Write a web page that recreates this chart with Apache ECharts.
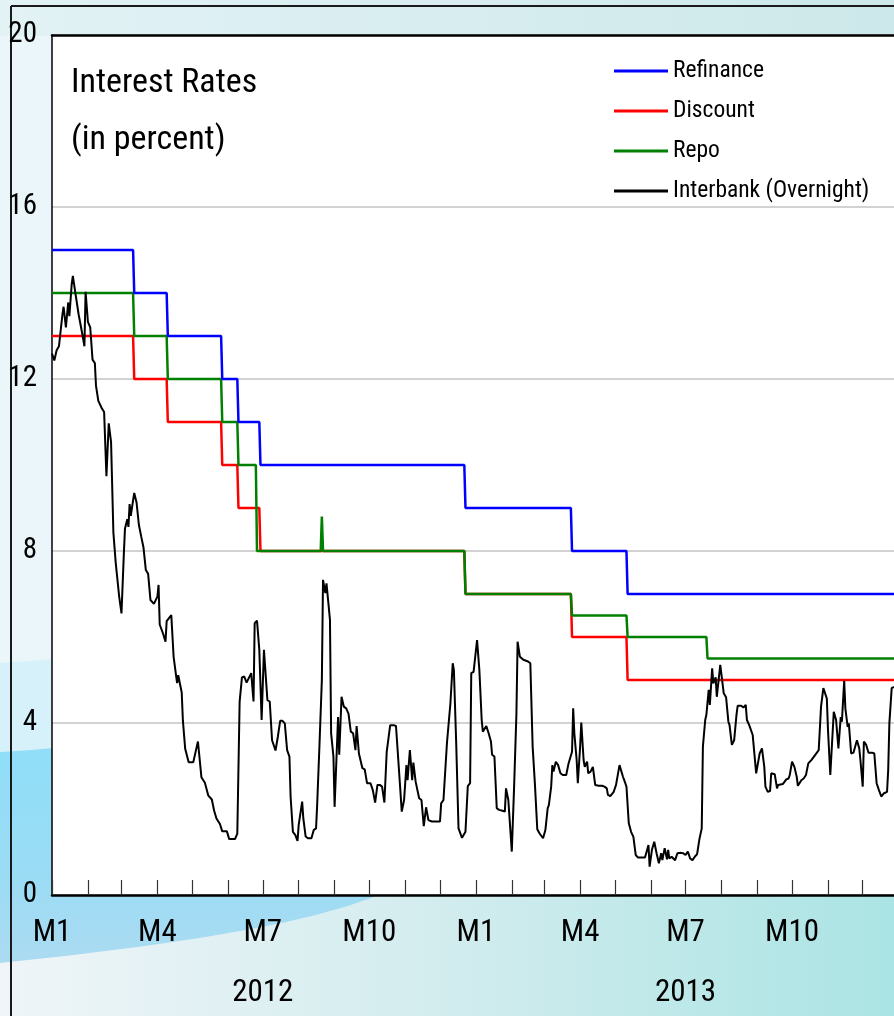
<!DOCTYPE html>
<html>
<head>
<meta charset="utf-8">
<script src="https://cdn.jsdelivr.net/npm/echarts@6/dist/echarts.min.js"></script>
<style>
html,body{margin:0;padding:0;width:894px;height:1016px;overflow:hidden;}
#bg{position:absolute;left:0;top:0;}
#chart{position:absolute;left:0;top:0;width:894px;height:1016px;}
</style>
</head>
<body>
<svg id="bg" width="894" height="1016" xmlns="http://www.w3.org/2000/svg">
  <defs>
    <linearGradient id="bgH" x1="0" y1="0" x2="1" y2="0">
      <stop offset="0" stop-color="#eff5f8"/>
      <stop offset="0.5" stop-color="#d2ecee"/>
      <stop offset="1" stop-color="#abe4e4"/>
    </linearGradient>
    <linearGradient id="bgT" x1="0" y1="0" x2="1" y2="0">
      <stop offset="0" stop-color="#e2f2f5"/>
      <stop offset="1" stop-color="#cde8ea"/>
    </linearGradient>
    <linearGradient id="sw" gradientUnits="userSpaceOnUse" x1="0" y1="750" x2="0" y2="965">
      <stop offset="0" stop-color="#90def8"/>
      <stop offset="0.6" stop-color="#9bdcf5"/>
      <stop offset="1" stop-color="#acdbf1"/>
    </linearGradient>
  </defs>
  <rect x="0" y="0" width="894" height="1016" fill="url(#bgH)"/>
  <rect x="0" y="0" width="894" height="36" fill="url(#bgT)"/>
  <rect x="0" y="36" width="52" height="630" fill="#eaf6f9"/>
  <path d="M0,663 C150,655 400,610 700,520 L700,700 L0,752 Z" fill="#d6f1fa"/>
  <path d="M0,752 C200,740 420,690 700,600 L700,895 L378,895 C330,915 230,940 0,963 Z" fill="url(#sw)"/>
  <line x1="11" y1="6" x2="894" y2="6" stroke="#1a1a1a" stroke-width="2"/>
  <line x1="11" y1="6" x2="11" y2="1016" stroke="#1a1a1a" stroke-width="2"/>
</svg>
<div id="chart"></div>
<script>
// ---------- data ----------
const startDate = '2012-01-01';
const endDate = '2013-12-28';
const quarterMonths = ['01', '04', '07', '10'];
const yearLabelDays = ['2012-07-01', '2013-07-01'];
const legendNames = ['Refinance', 'Discount', 'Repo', 'Interbank (Overnight)'];

// policy rate changes: [date from which the rate applies, rate]
const refinanceChanges = [
  ['2012-01-01', 15], ['2012-03-12', 14], ['2012-04-10', 13], ['2012-05-27', 12],
  ['2012-06-10', 11], ['2012-06-29', 10], ['2012-12-23', 9], ['2013-03-25', 8],
  ['2013-05-12', 7]
];
const discountChanges = [
  ['2012-01-01', 13], ['2012-03-12', 12], ['2012-04-10', 11], ['2012-05-27', 10],
  ['2012-06-10', 9], ['2012-06-29', 8], ['2012-12-23', 7], ['2013-03-25', 6],
  ['2013-05-12', 5]
];
const repoChanges = [
  ['2012-01-01', 14], ['2012-03-12', 13], ['2012-04-10', 12], ['2012-05-27', 11],
  ['2012-06-10', 10], ['2012-06-26', 8], ['2012-08-21', 8.8], ['2012-08-22', 8],
  ['2012-12-23', 7], ['2013-03-25', 6.5], ['2013-05-12', 6], ['2013-07-20', 5.5]
];

// interbank overnight rate: day number counted from 2012-01-01, rate
const interbankDay = [0,2,4,6,9,10,12,14,15,17,18,20,23,26,28,29,31,33,35,37,38,40,43,45,47,49,51,53,55,58,59,60,62,63,65,66,67,68,71,73,75,77,79,81,83,85,88,91,92,93,96,98,99,103,105,108,109,112,113,115,118,122,126,129,132,135,138,140,142,145,147,151,153,158,160,162,164,166,168,169,172,173,174,175,177,179,181,183,186,188,190,193,195,197,199,201,202,203,205,206,208,210,212,213,216,217,219,221,224,226,228,229,231,233,234,236,237,238,240,241,243,244,247,248,250,252,254,256,258,260,262,263,265,266,268,270,272,275,277,279,281,283,285,287,289,290,292,295,297,299,300,302,304,306,307,309,311,312,314,317,319,321,323,325,328,335,336,338,341,344,346,347,349,351,352,354,357,358,359,361,362,364,367,369,371,372,375,377,379,380,382,384,386,389,391,392,394,397,399,401,402,404,407,411,413,415,417,419,421,424,426,428,429,431,432,433,435,437,439,441,444,445,446,447,449,450,451,453,454,456,457,459,460,462,463,465,467,469,472,475,477,479,480,482,485,487,490,491,493,495,496,498,500,502,504,506,508,512,513,515,516,518,520,522,524,526,527,529,531,532,533,535,538,540,543,545,547,549,551,553,555,557,559,561,562,564,565,567,568,570,571,573,574,575,577,580,582,584,585,587,589,591,592,595,597,599,600,602,605,608,609,611,613,615,616,618,620,621,624,626,627,631,634,636,637,639,641,643,644,647,649,651,653,656,659,662,664,666,669,670,672,675,677,679,681,682,684,685,687,688,690,692,695,697,698,700,701,703,705,708,710,712,714,716,718,721,722,723,725,727];
const interbankRate = [12.59,12.43,12.67,12.76,13.5,13.68,13.2,13.78,13.46,14.2,14.4,14.03,13.5,13.07,12.76,14.03,13.33,13.2,12.45,12.37,11.84,11.49,11.32,11.23,9.74,10.97,10.53,8.43,7.73,6.94,6.9,6.55,7.91,8.52,8.74,8.56,9.09,8.82,9.35,9.13,8.61,8.34,8.08,7.56,7.47,6.86,6.77,6.94,7.21,6.29,6.07,5.89,6.37,6.51,5.54,4.93,5.11,4.71,4.06,3.4,3.09,3.09,3.57,2.74,2.61,2.31,2.22,1.96,1.78,1.65,1.48,1.48,1.3,1.3,1.43,4.49,5.06,5.08,4.94,4.94,5.16,5.12,4.5,6.32,6.38,5.7,4.07,5.7,4.53,4.5,3.6,3.36,3.68,4.05,4.05,3.99,4.03,3.37,3.22,2.29,1.47,1.4,1.26,1.63,2.17,1.78,1.36,1.32,1.32,1.51,1.55,2.13,3.53,5.0,7.33,7.02,7.25,7.21,6.4,3.76,3.22,2.05,4.14,3.26,4.61,4.38,4.34,4.22,3.8,3.76,3.37,3.93,3.29,3.26,2.95,2.92,2.6,2.6,2.44,2.15,2.56,2.56,2.52,2.15,3.33,3.37,3.95,3.95,3.93,3.14,3.1,1.94,2.21,3.02,2.67,3.37,2.67,3.08,2.63,2.25,2.21,1.6,2.04,1.74,1.71,1.71,2.13,2.21,3.53,4.46,5.39,5.23,3.53,1.55,1.51,1.33,1.47,1.47,2.53,2.6,5.16,5.19,5.93,5.23,4.07,3.8,3.93,3.76,3.57,3.26,3.22,2.02,1.98,1.96,1.94,2.48,2.21,1.01,2.52,4.22,5.89,5.54,5.47,5.43,5.39,3.45,2.56,1.53,1.43,1.32,1.51,2.02,2.09,2.52,3.02,2.87,3.1,3.02,2.83,2.79,2.79,2.75,3.06,3.1,3.33,4.34,3.76,3.14,2.6,3.45,4.01,3.14,2.98,3.1,2.83,2.87,2.98,2.56,2.54,2.54,2.52,2.48,2.33,2.3,2.4,2.56,3.02,2.98,2.75,2.6,2.52,1.67,1.47,1.35,0.93,0.87,0.87,0.87,0.89,1.16,0.66,1.05,1.24,0.97,0.74,0.97,0.81,1.09,0.83,1.05,0.85,0.89,0.81,0.97,0.98,0.97,0.93,1.01,0.85,0.81,0.89,0.95,1.3,1.55,3.45,4.07,4.19,4.77,4.42,5.27,4.92,5.06,4.61,4.6,5.35,4.69,4.6,4.03,3.95,3.49,3.6,4.19,4.4,4.4,4.36,4.42,4.07,3.95,3.72,2.83,2.83,3.29,3.41,2.98,2.52,2.4,2.42,2.83,2.81,2.48,2.56,2.58,2.69,2.71,2.79,3.1,2.98,2.75,2.54,2.67,2.71,2.79,3.06,3.15,3.26,3.37,4.38,4.81,4.57,3.84,2.79,4.26,4.07,3.41,4.14,4.03,4.98,4.34,3.91,3.99,3.29,3.31,3.6,3.41,3.14,2.52,3.57,3.49,3.31,3.31,3.29,2.6,2.44,2.29,2.36,2.4,2.91,3.99,4.81,4.84];

// ---------- build ----------
const days = [];
(function () {
  const t0 = Date.parse(startDate + 'T00:00:00Z');
  const t1 = Date.parse(endDate + 'T00:00:00Z');
  for (let t = t0; t <= t1; t += 86400000) days.push(new Date(t).toISOString().slice(0, 10));
})();

function stepData(changes) {
  const out = [];
  changes.forEach(function (c, i) {
    const idx = days.indexOf(c[0]);
    if (i === 0) { out.push([idx, c[1]]); }
    else { out.push([idx - 1, changes[i - 1][1]]); out.push([idx, c[1]]); }
  });
  out.push([days.length - 1, changes[changes.length - 1][1]]);
  return out;
}
const interbankData = interbankDay.map(function (d, i) { return [d, interbankRate[i]]; });

const FONT = "'Roboto Condensed', 'Liberation Sans Narrow', 'DejaVu Sans Condensed', sans-serif";

const chart = echarts.init(document.getElementById('chart'), null, { renderer: 'canvas' });
chart.setOption({
  animation: false,
  backgroundColor: 'transparent',
  textStyle: { fontFamily: FONT },
  title: {
    text: 'Interest Rates\n(in percent)',
    left: 66, top: 50,
    textStyle: { fontFamily: FONT, fontSize: 34, fontWeight: 'normal', color: '#000', lineHeight: 57 }
  },
  legend: {
    data: legendNames,
    orient: 'vertical',
    left: 609, top: 53,
    icon: 'rect',
    itemWidth: 54, itemHeight: 3,
    itemGap: 14,
    textStyle: { fontFamily: FONT, fontSize: 23.5, color: '#000', lineHeight: 26 }
  },
  grid: {
    left: 52, right: 0, top: 35, bottom: 121,
    show: true, backgroundColor: '#ffffff', borderWidth: 0
  },
  xAxis: [
    {
      type: 'category', data: days, boundaryGap: false, position: 'bottom',
      axisLine: { show: true, lineStyle: { color: '#000', width: 2.5 } },
      axisTick: {
        show: true, inside: true, length: 15, lineStyle: { color: '#333', width: 1.2 },
        interval: function (i, v) { return v.slice(8) === '01'; }
      },
      axisLabel: {
        show: true, margin: 23, color: '#000', fontFamily: FONT, fontSize: 31,
        interval: function (i, v) { return v.slice(8) === '01' && quarterMonths.indexOf(v.slice(5, 7)) >= 0; },
        formatter: function (v) { return 'M' + parseInt(v.slice(5, 7), 10); }
      },
      splitLine: { show: false }
    },
    {
      type: 'category', data: days, boundaryGap: false, position: 'bottom',
      axisLine: { show: false }, axisTick: { show: false },
      axisLabel: {
        show: true, margin: 83, color: '#000', fontFamily: FONT, fontSize: 31,
        interval: function (i, v) { return yearLabelDays.indexOf(v) >= 0; },
        formatter: function (v) { return v.slice(0, 4); }
      },
      splitLine: { show: false }
    },
    {
      type: 'value', position: 'top', min: 0, max: 1,
      axisLine: { show: true, onZero: false, lineStyle: { color: '#000', width: 2.5 } },
      axisTick: { show: false }, axisLabel: { show: false }, splitLine: { show: false }
    }
  ],
  yAxis: {
    type: 'value', min: 0, max: 20, interval: 4,
    axisLine: { show: true, onZero: false, lineStyle: { color: '#000', width: 1.5 } },
    axisTick: { show: false },
    axisLabel: { color: '#000', fontFamily: FONT, fontSize: 29, margin: 15, padding: [0, 0, 10, 0] },
    splitLine: { show: true, lineStyle: { color: '#d2d2d2', width: 2 } }
  },
  series: [
    { name: 'Discount', type: 'line', xAxisIndex: 0, data: stepData(discountChanges), showSymbol: false,
      lineStyle: { color: '#ff0000', width: 2.5 }, itemStyle: { color: '#ff0000' } },
    { name: 'Repo', type: 'line', xAxisIndex: 0, data: stepData(repoChanges), showSymbol: false,
      lineStyle: { color: '#008000', width: 2.5 }, itemStyle: { color: '#008000' } },
    { name: 'Refinance', type: 'line', xAxisIndex: 0, data: stepData(refinanceChanges), showSymbol: false,
      lineStyle: { color: '#0000ff', width: 2.5 }, itemStyle: { color: '#0000ff' } },
    { name: 'Interbank (Overnight)', type: 'line', xAxisIndex: 0, data: interbankData, showSymbol: false,
      lineStyle: { color: '#000000', width: 2 }, itemStyle: { color: '#000000' } }
  ]
});
</script>
</body>
</html>
